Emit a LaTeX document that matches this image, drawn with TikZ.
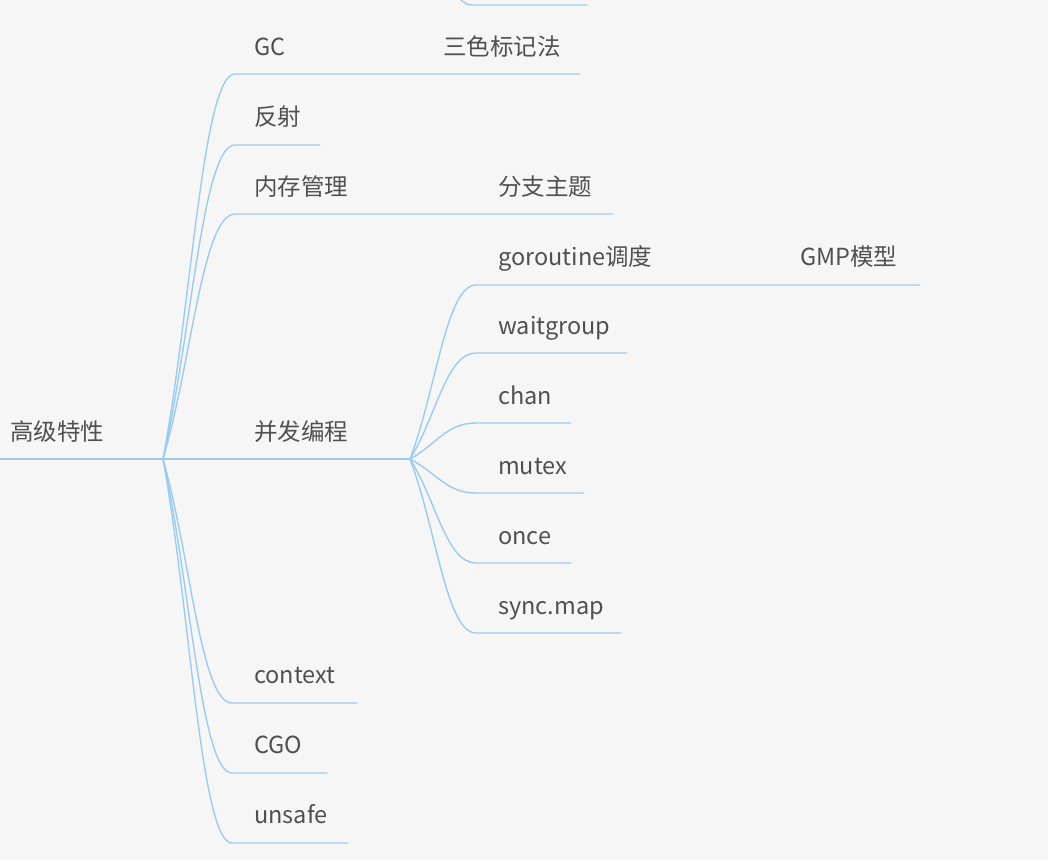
\documentclass[tikz,border=0pt]{standalone}
\usepackage{fontspec}
\setmainfont{Noto Sans CJK SC}
\usepackage{tikz}
\usetikzlibrary{calc}
\definecolor{paper}{HTML}{F6F6F6}
\definecolor{textgray}{HTML}{505050}
\definecolor{linkblue}{HTML}{9CCBF2}
\newcommand{\topicfont}{\fontsize{23.5}{27}\selectfont}
\tikzset{
	topic/.style={anchor=base west, inner sep=0pt, text=textgray, font=\topicfont},
	link/.style={draw=linkblue, line width=1.4pt, line cap=round},
	curl/.style={to path={.. controls ($(\tikztostart)!.4!(\tikztotarget)$) and ($(\tikztotarget)!.45!(\tikztostart |- \tikztotarget)$) .. (\tikztotarget)}}
}

\begin{document}
\begin{tikzpicture}[x=1pt, y=-1pt]
	\fill [paper] (0,0) rectangle (1048,860);
	\useasboundingbox (0,0) rectangle (1048,860);
	%
	\node [topic] (root) at (10,440.5) {高级特性};
	\node [topic] (gc) at (254,55.5) {GC};
	\node [topic] (tricolor) at (443,55.5) {三色标记法};
	\node [topic] (reflect) at (254,125.5) {反射};
	\node [topic] (memory) at (254,195.5) {内存管理};
	\node [topic] (subtopic) at (498,195.5) {分支主题};
	\node [topic] (concur) at (254,440.5) {并发编程};
	\node [topic] (sched) at (498,265.5) {goroutine调度};
	\node [topic] (gmp) at (800,265.5) {GMP模型};
	\node [topic] (wg) at (498,334.5) {waitgroup};
	\node [topic] (chan) at (498,404.5) {chan};
	\node [topic] (mutex) at (498,474.5) {mutex};
	\node [topic] (once) at (498,544.5) {once};
	\node [topic] (syncmap) at (498,614.5) {sync.map};
	\node [topic] (ctx) at (254,683.5) {context};
	\node [topic] (cgo) at (254,753.5) {CGO};
	\node [topic] (unsafe) at (254,823.5) {unsafe};
	%
	\coordinate (root-s) at (0,459);
	\coordinate (r) at (163,459);
	\coordinate (c) at (410,459);
	\coordinate (gc-s) at (235,74);
	\coordinate (gc-e) at (420,74);
	\coordinate (tricolor-e) at (580,74);
	\coordinate (reflect-s) at (235,145);
	\coordinate (reflect-e) at (320,145);
	\coordinate (memory-s) at (235,214);
	\coordinate (memory-e) at (480,214);
	\coordinate (subtopic-e) at (613,214);
	\coordinate (sched-s) at (476,285);
	\coordinate (sched-e) at (780,285);
	\coordinate (gmp-e) at (920,285);
	\coordinate (wg-s) at (476,353);
	\coordinate (wg-e) at (627,353);
	\coordinate (chan-s) at (476,423);
	\coordinate (chan-e) at (571,423);
	\coordinate (mutex-s) at (476,493);
	\coordinate (mutex-e) at (584,493);
	\coordinate (once-s) at (476,563);
	\coordinate (once-e) at (571,563);
	\coordinate (syncmap-s) at (476,633);
	\coordinate (syncmap-e) at (621,633);
	\coordinate (ctx-s) at (232,703);
	\coordinate (ctx-e) at (357,703);
	\coordinate (cgo-s) at (232,773);
	\coordinate (cgo-e) at (327,773);
	\coordinate (unsafe-s) at (232,843);
	\coordinate (unsafe-e) at (348,843);
	% branch cut off by the top edge
	\coordinate (top-p) at (440,-30);
	\coordinate (top-s) at (472,5);
	\coordinate (top-e) at (587,5);
	%
	\draw [link] (root-s) -- (r) -- (c);
	\draw [link] (r) to[curl] (gc-s) -- (gc-e) -- (tricolor-e);
	\draw [link] (r) to[curl] (reflect-s) -- (reflect-e);
	\draw [link] (r) to[curl] (memory-s) -- (memory-e) -- (subtopic-e);
	\draw [link] (r) to[curl] (ctx-s) -- (ctx-e);
	\draw [link] (r) to[curl] (cgo-s) -- (cgo-e);
	\draw [link] (r) to[curl] (unsafe-s) -- (unsafe-e);
	\draw [link] (c) to[curl] (sched-s) -- (sched-e) -- (gmp-e);
	\draw [link] (c) to[curl] (wg-s) -- (wg-e);
	\draw [link] (c) to[curl] (chan-s) -- (chan-e);
	\draw [link] (c) to[curl] (mutex-s) -- (mutex-e);
	\draw [link] (c) to[curl] (once-s) -- (once-e);
	\draw [link] (c) to[curl] (syncmap-s) -- (syncmap-e);
	\draw [link] (top-p) to[curl] (top-s) -- (top-e);
\end{tikzpicture}
\end{document}
